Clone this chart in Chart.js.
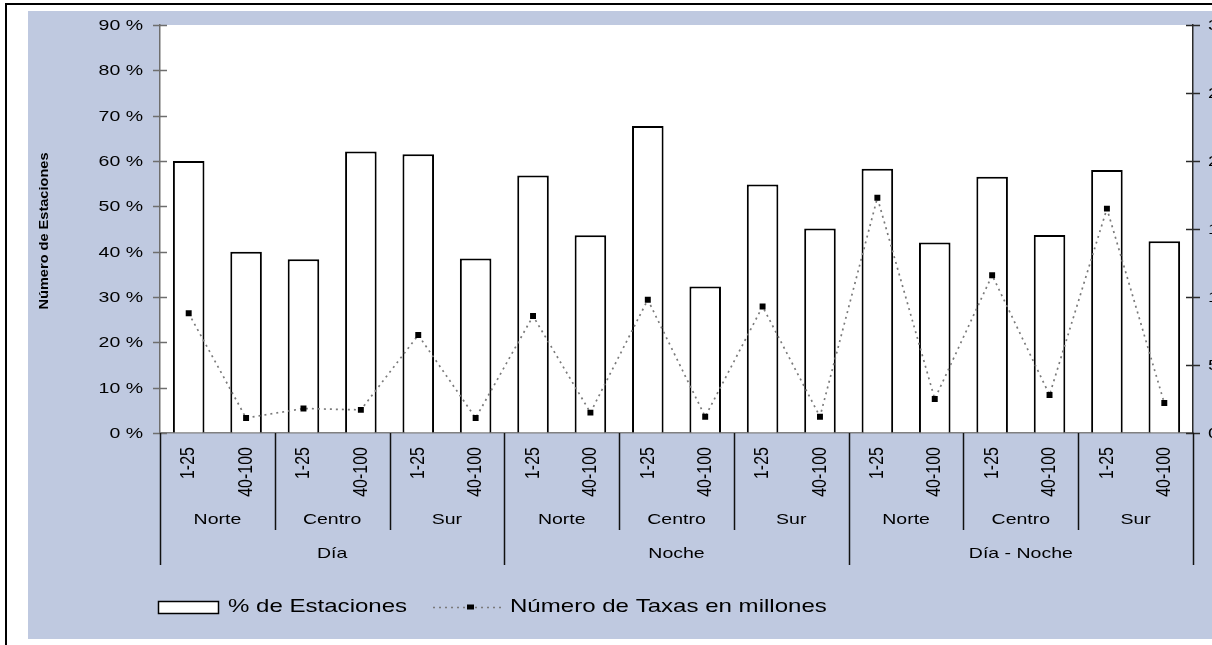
<!DOCTYPE html>
<html>
<head>
<meta charset="utf-8">
<script src="https://cdn.jsdelivr.net/npm/chart.js@4.4.1/dist/chart.umd.min.js"></script>
<style>
  html, body { margin: 0; padding: 0; overflow: hidden; background: #fff; width: 1212px; height: 645px; }
  #wrap { position: absolute; left: 0; top: 0; width: 1260px; height: 645px; }
</style>
</head>
<body>
<div id="wrap"><canvas id="chart"></canvas></div>
<script>
// grouped categories: period > zone > size
const periods = ["Día", "Noche", "Día - Noche"];
const zones = ["Norte", "Centro", "Sur"];
const sizes = ["1-25", "40-100"];

// % de Estaciones (left axis)
const pctStations = [60.0, 40.0, 38.3, 62.1, 61.5, 38.5,
                     56.8, 43.6, 67.7, 32.3, 54.8, 45.1,
                     58.3, 42.0, 56.5, 43.7, 58.0, 42.3];
// Número de Taxas en millones (right axis)
const taxesMillions = [8.8, 1.1, 1.8, 1.7, 7.2, 1.1,
                       8.6, 1.5, 9.8, 1.2, 9.3, 1.2,
                       17.3, 2.5, 11.6, 2.8, 16.5, 2.2];

const leftMax = 90, leftStep = 10;
const rightMax = 30, rightStep = 5;

const FONT = '"Liberation Sans", Arial, sans-serif';
const BLUE = "#bfc9e0";
const STRETCH = 1.3; // texts in the original are widened

const labels = [];
periods.forEach(p => zones.forEach(z => sizes.forEach(s => labels.push([p, z, s]))));

function wideText(ctx, txt, x, y, align, rotated) {
  ctx.save();
  ctx.translate(x, y);
  ctx.scale(STRETCH, 1);
  if (rotated) ctx.rotate(-Math.PI / 2);
  ctx.textAlign = align;
  ctx.fillText(txt, 0, 0);
  ctx.restore();
}

const decor = {
  id: "decor",
  beforeDraw(chart) {
    const { ctx, width, height, chartArea: a } = chart;
    ctx.save();
    ctx.fillStyle = "#fff";
    ctx.fillRect(0, 0, width, height);
    ctx.fillStyle = "#000";
    ctx.fillRect(5, 3, width, 2);
    ctx.fillRect(5, 3, 2, height);
    ctx.fillStyle = BLUE;
    ctx.fillRect(28, 11, width - 28, 628);
    ctx.fillStyle = "#fff";
    ctx.fillRect(a.left, a.top, a.right - a.left, a.bottom - a.top);
    ctx.restore();
  },
  afterDraw(chart) {
    const { ctx, chartArea: a } = chart;
    const x = chart.scales.x, yl = chart.scales.y, yr = chart.scales.y1;
    ctx.save();

    // y tick marks crossing the axes + labels
    ctx.textBaseline = "middle";
    ctx.font = "15px " + FONT;
    ctx.fillStyle = "#000";
    ctx.lineWidth = 1.5;
    ctx.strokeStyle = "#6e6e6e";
    yl.ticks.forEach(t => {
      const py = Math.round(yl.getPixelForValue(t.value)) + 0.5;
      ctx.beginPath(); ctx.moveTo(a.left - 7, py); ctx.lineTo(a.left + 7, py); ctx.stroke();
      wideText(ctx, t.value + " %", a.left - 17, py, "right", false);
    });
    ctx.strokeStyle = "#2a2a2a";
    yr.ticks.forEach(t => {
      const py = Math.round(yr.getPixelForValue(t.value)) + 0.5;
      ctx.beginPath(); ctx.moveTo(a.right - 7, py); ctx.lineTo(a.right + 7, py); ctx.stroke();
      wideText(ctx, String(t.value), a.right + 15, py, "left", false);
    });

    // y axis title
    ctx.save();
    ctx.font = "bold 13px " + FONT;
    ctx.translate(44.5, (a.top + a.bottom) / 2 + 2);
    ctx.scale(1, 1.12);
    ctx.rotate(-Math.PI / 2);
    ctx.textAlign = "center";
    ctx.fillText("Número de Estaciones", 0, 0);
    ctx.restore();

    // multi-level category labels
    const n = labels.length;
    const edge = i => i <= 0 ? a.left : i >= n ? a.right
      : (x.getPixelForValue(i - 1) + x.getPixelForValue(i)) / 2;
    ctx.font = "16px " + FONT;
    labels.forEach((l, i) => {
      wideText(ctx, l[2], x.getPixelForValue(i), a.bottom + 14, "right", true);
    });
    ctx.font = "15px " + FONT;
    ctx.strokeStyle = "#111";
    ctx.lineWidth = 1.5;
    const per = sizes.length, perPeriod = sizes.length * zones.length;
    for (let g = 0; g < n / per; g++) {
      const x0 = edge(g * per), x1 = edge((g + 1) * per);
      wideText(ctx, zones[g % zones.length], (x0 + x1) / 2, a.bottom + 87, "center", false);
    }
    for (let p = 0; p < periods.length; p++) {
      const x0 = edge(p * perPeriod), x1 = edge((p + 1) * perPeriod);
      wideText(ctx, periods[p], (x0 + x1) / 2, a.bottom + 121, "center", false);
    }
    for (let i = 0; i <= n; i += per) {
      const px = Math.round(edge(i)) + 0.5;
      const len = i % perPeriod === 0 ? 132 : 97;
      ctx.beginPath(); ctx.moveTo(px, a.bottom); ctx.lineTo(px, a.bottom + len); ctx.stroke();
    }

    // legend
    const bar = chart.data.datasets[0], line = chart.data.datasets[1];
    const ly = 607;
    ctx.fillStyle = bar.backgroundColor;
    ctx.fillRect(158.5, 601.5, 60, 12);
    ctx.strokeStyle = bar.borderColor;
    ctx.lineWidth = 1.5;
    ctx.strokeRect(158.5, 601.5, 60, 12);
    ctx.fillStyle = "#000";
    ctx.font = "18.5px " + FONT;
    wideText(ctx, bar.label, 228, ly, "left", false);
    ctx.strokeStyle = line.borderColor;
    ctx.lineWidth = line.borderWidth;
    ctx.setLineDash(line.borderDash);
    ctx.beginPath(); ctx.moveTo(433, ly + 0.5); ctx.lineTo(504, ly + 0.5); ctx.stroke();
    ctx.setLineDash([]);
    ctx.fillStyle = "#000";
    ctx.fillRect(467, ly - 2.5, 7, 5);
    wideText(ctx, line.label, 510, ly, "left", false);

    ctx.restore();
  }
};

new Chart(document.getElementById("chart"), {
  data: {
    labels,
    datasets: [
      {
        type: "bar",
        label: "% de Estaciones",
        data: pctStations,
        yAxisID: "y",
        backgroundColor: "#ffffff",
        borderColor: "#000000",
        borderWidth: 2,
        barPercentage: 0.55,
        categoryPercentage: 1,
        order: 2
      },
      {
        type: "line",
        label: "Número de Taxas en millones",
        data: taxesMillions,
        yAxisID: "y1",
        borderColor: "#7a7a7a",
        borderWidth: 1.7,
        borderDash: [2, 4],
        tension: 0,
        pointStyle: "rect",
        pointRadius: 4.2,
        pointBackgroundColor: "#000",
        pointBorderColor: "#000",
        pointBorderWidth: 0,
        order: 1
      }
    ]
  },
  options: {
    responsive: true,
    maintainAspectRatio: false,
    animation: false,
    layout: { padding: { left: 30, top: 25, right: 0, bottom: 0 } },
    plugins: { legend: { display: false }, tooltip: { enabled: false } },
    scales: {
      x: {
        type: "category",
        offset: true,
        grid: { display: false },
        border: { color: "#808080", width: 1.5 },
        ticks: { display: false },
        afterFit: s => { s.height = 212; }
      },
      y: {
        position: "left",
        min: 0, max: leftMax,
        ticks: { display: false, stepSize: leftStep },
        grid: { drawOnChartArea: false, drawTicks: false },
        border: { color: "#6e6e6e", width: 1.5 },
        afterFit: s => { s.width = 130; }
      },
      y1: {
        position: "right",
        min: 0, max: rightMax,
        ticks: { display: false, stepSize: rightStep },
        grid: { drawOnChartArea: false, drawTicks: false },
        border: { color: "#2a2a2a", width: 1.5 },
        afterFit: s => { s.width = 67; }
      }
    }
  },
  plugins: [decor]
});
</script>
</body>
</html>
